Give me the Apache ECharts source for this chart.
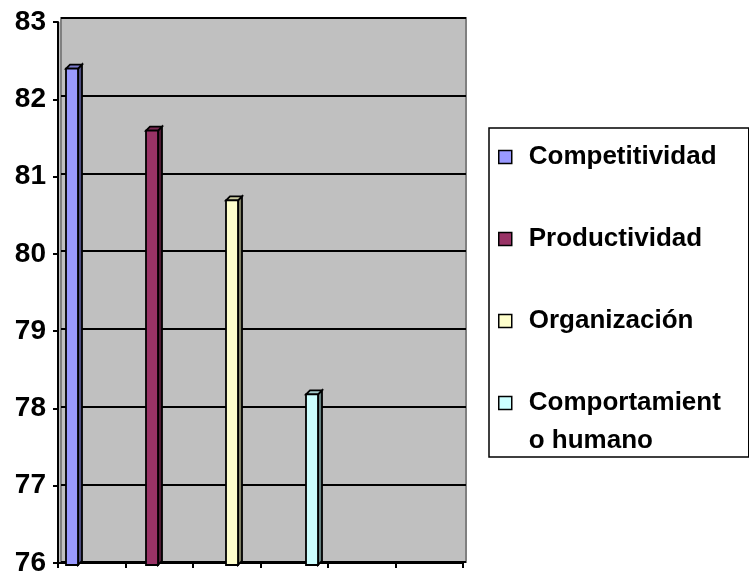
<!DOCTYPE html>
<html>
<head>
<meta charset="utf-8">
<script src="https://cdn.jsdelivr.net/npm/echarts@6/dist/echarts.min.js"></script>
<style>
  html, body { margin: 0; padding: 0; background: #fff; }
  #chart { width: 749px; height: 577px; }
</style>
</head>
<body>
<div id="chart"></div>
<script>
// datos
var categories = ['Competitividad', 'Productividad', 'Organización', 'Comportamiento humano'];
var legendLabels = ['Competitividad', 'Productividad', 'Organización', 'Comportamient\no humano'];
var values = [82.4, 81.6, 80.7, 78.2];
var colors = ['#9999ff', '#993366', '#ffffcc', '#ccffff'];
var yMin = 76, yMax = 83, yStep = 1;
var xTickSlots = ['', '', '', '', '', ''];

function shade(hex, f){
	var n = parseInt(hex.slice(1), 16);
	var r = Math.round(((n >> 16) & 255) * f);
	var g = Math.round(((n >> 8) & 255) * f);
	var b = Math.round((n & 255) * f);
	return 'rgb(' + r + ',' + g + ',' + b + ')';
}

// barra con cara frontal, lateral y superior (estilo 3D)
function renderBar(color){
	return function(params, api){
		var top = api.coord([api.value(0), api.value(1)]);
		var base = api.coord([api.value(0), yMin]);
		var fw = 12, d = 4;
		var x0 = top[0] - 8, x1 = x0 + fw, x2 = x1 + d;
		var yt = top[1], yb = base[1];
		var line = { stroke: '#000', lineWidth: 1.8 };
		return {
			type: 'group',
			children: [
				{ type: 'polygon', shape: { points: [[x1, yt], [x2, yt - d], [x2, yb - d], [x1, yb]] },
				  style: Object.assign({ fill: shade(color, 0.5) }, line) },
				{ type: 'polygon', shape: { points: [[x0, yt], [x0 + d, yt - d], [x2, yt - d], [x1, yt]] },
				  style: Object.assign({ fill: shade(color, 0.8) }, line) },
				{ type: 'rect', shape: { x: x0, y: yt, width: fw, height: yb - yt },
				  style: Object.assign({ fill: color }, line) }
			]
		};
	};
}

var series = categories.map(function(name, i){
	return {
		name: name,
		type: 'custom',
		xAxisIndex: 2,
		yAxisIndex: 2,
		itemStyle: { color: colors[i] },
		renderItem: renderBar(colors[i]),
		data: [[name, values[i]]]
	};
});

var legendText = {
	fontSize: 26,
	fontWeight: 'bold',
	fontFamily: 'Liberation Sans, Arial, sans-serif',
	color: '#000',
	lineHeight: 38,
	width: 215,
	overflow: 'break',
	padding: [0, 0, 0, 12]
};

var option = {
	animation: false,
	textStyle: { fontFamily: 'Liberation Sans, Arial, sans-serif' },
	grid: [
		// eje frontal
		{ left: 58, right: 286, top: 22, bottom: 12, show: true, backgroundColor: '#c0c0c0', borderWidth: 0 },
		// pared del fondo
		{ left: 61, right: 283, top: 18, bottom: 15, show: true, backgroundColor: '#c0c0c0', borderColor: '#808080', borderWidth: 2 },
		// barras
		{ left: 34, right: 395, top: 22, bottom: 12 }
	],
	xAxis: [
		{ gridIndex: 0, type: 'category', data: xTickSlots, boundaryGap: true,
		  axisLine: { lineStyle: { color: '#000', width: 2 } },
		  axisTick: { show: true, length: 5, lineStyle: { color: '#000', width: 2 } },
		  axisLabel: { show: false }, splitLine: { show: false } },
		{ gridIndex: 1, type: 'category', data: xTickSlots, show: false },
		{ gridIndex: 2, type: 'category', data: categories, show: false }
	],
	yAxis: [
		{ gridIndex: 0, type: 'value', min: yMin, max: yMax, interval: yStep,
		  axisLine: { show: true, lineStyle: { color: '#000', width: 2 } },
		  axisTick: { show: true, length: 5, lineStyle: { color: '#000', width: 2 } },
		  axisLabel: { color: '#000', fontSize: 28, fontWeight: 'bold', margin: 12,
		               fontFamily: 'Liberation Sans, Arial, sans-serif' },
		  splitLine: { show: false } },
		{ gridIndex: 1, type: 'value', min: yMin, max: yMax, interval: yStep,
		  axisLine: { show: false }, axisTick: { show: false }, axisLabel: { show: false },
		  splitLine: { show: true, lineStyle: { color: '#000', width: 2 } } },
		{ gridIndex: 2, type: 'value', min: yMin, max: yMax, show: false }
	],
	legend: [
		{
			data: categories.slice(0, 3),
			orient: 'vertical',
			left: 489, top: 128,
			padding: [10, 5, 117, 9],
			itemWidth: 13, itemHeight: 13, itemGap: 44,
			icon: 'rect',
			itemStyle: { borderColor: '#000', borderWidth: 1.5 },
			borderColor: '#000', borderWidth: 1.5,
			selectedMode: false,
			formatter: function(name){ return legendLabels[categories.indexOf(name)]; },
			textStyle: legendText
		},
		{
			// la primera línea vacía deja el cuadro alineado con "Comportamient"
			data: [categories[3]],
			orient: 'vertical',
			left: 489, top: 346,
			padding: [0, 0, 0, 9],
			itemWidth: 13, itemHeight: 13,
			icon: 'rect',
			itemStyle: { borderColor: '#000', borderWidth: 1.5 },
			borderWidth: 0,
			selectedMode: false,
			formatter: function(name){ return '\n' + legendLabels[categories.indexOf(name)]; },
			textStyle: legendText
		}
	],
	series: series
};

var myChart = echarts.init(document.getElementById('chart'));
myChart.setOption(option);
</script>
</body>
</html>
